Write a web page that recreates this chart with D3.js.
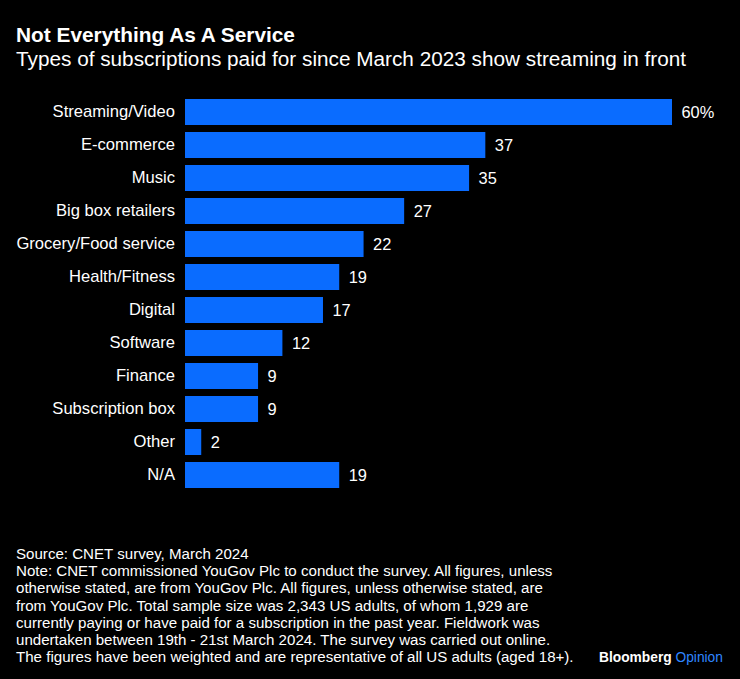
<!DOCTYPE html>
<html><head><meta charset="utf-8">
<script src="https://cdn.jsdelivr.net/npm/d3@7"></script>
<style>html,body{margin:0;padding:0;background:#000;}svg{display:block;}</style>
</head><body>
<script>
const categories = ["Streaming/Video","E-commerce","Music","Big box retailers","Grocery/Food service","Health/Fitness","Digital","Software","Finance","Subscription box","Other","N/A"];
const values = [60,37,35,27,22,19,17,12,9,9,2,19];
const valueLabels = ["60%","37","35","27","22","19","17","12","9","9","2","19"];
const title = "Not Everything As A Service";
const subtitle = "Types of subscriptions paid for since March 2023 show streaming in front";
const footLines = [
 "Source: CNET survey, March 2024",
 "Note: CNET commissioned YouGov Plc to conduct the survey. All figures, unless",
 "otherwise stated, are from YouGov Plc. All figures, unless otherwise stated, are",
 "from YouGov Plc. Total sample size was 2,343 US adults, of whom 1,929 are",
 "currently paying or have paid for a subscription in the past year. Fieldwork was",
 "undertaken between 19th - 21st March 2024. The survey was carried out online.",
 "The figures have been weighted and are representative of all US adults (aged 18+)."
];

const W = 740, H = 679;
const svg = d3.select("body").append("svg").attr("width", W).attr("height", H);
svg.append("rect").attr("width", W).attr("height", H).attr("fill", "#000");
const font = "'Liberation Sans', Arial, sans-serif";

function fit(sel, target){
  const n = sel.node();
  let fs = parseFloat(sel.attr("font-size"));
  const w = n.getComputedTextLength();
  sel.attr("font-size", (fs * target / w).toFixed(2));
}

const t = svg.append("text").attr("x", 16).attr("y", 42).attr("fill", "#fff")
  .attr("font-family", font).attr("font-weight", "bold").attr("font-size", 19).text(title);
fit(t, 279);
const st = svg.append("text").attr("x", 16).attr("y", 66).attr("fill", "#fff")
  .attr("font-family", font).attr("font-size", 19).text(subtitle);
fit(st, 670);

const x = d3.scaleLinear().domain([0, 60]).range([185, 672]);
const y = d3.scaleBand().domain(categories).range([95.5, 491.5]).paddingInner(0.212).paddingOuter(0.106);

svg.append("g").selectAll("rect").data(categories).join("rect")
  .attr("x", x(0)).attr("y", d => y(d))
  .attr("width", (d,i) => x(values[i]) - x(0)).attr("height", y.bandwidth())
  .attr("fill", "#0a6cff");

const yAxis = svg.append("g").attr("transform", `translate(${x(0)},0)`)
  .call(d3.axisLeft(y).tickSize(0).tickPadding(10));
yAxis.select(".domain").remove();
yAxis.selectAll("text").attr("fill", "#fff").attr("font-family", font).attr("font-size", 16.6);

svg.append("g").selectAll("text").data(categories).join("text")
  .attr("x", (d,i) => x(values[i]) + 9.5).attr("y", d => y(d) + y.bandwidth()/2)
  .attr("dy", "0.35em").attr("fill", "#fff").attr("font-family", font).attr("font-size", 16.4)
  .text((d,i) => valueLabels[i]);

const fg = svg.append("g");
footLines.forEach((l, i) => {
  fg.append("text").attr("x", 16).attr("y", 559 + i * 17.2).attr("fill", "#fff")
    .attr("font-family", font).attr("font-size", 15.1).text(l);
});

const bo = svg.append("text").attr("x", 599).attr("y", 662).attr("font-family", font)
  .attr("font-size", 14).attr("font-weight", "bold");
bo.append("tspan").attr("fill", "#fff").text("Bloomberg ");
bo.append("tspan").attr("fill", "#2f86ff").attr("font-weight", "normal").text("Opinion");
fit(bo, 124);
</script>
</body></html>
